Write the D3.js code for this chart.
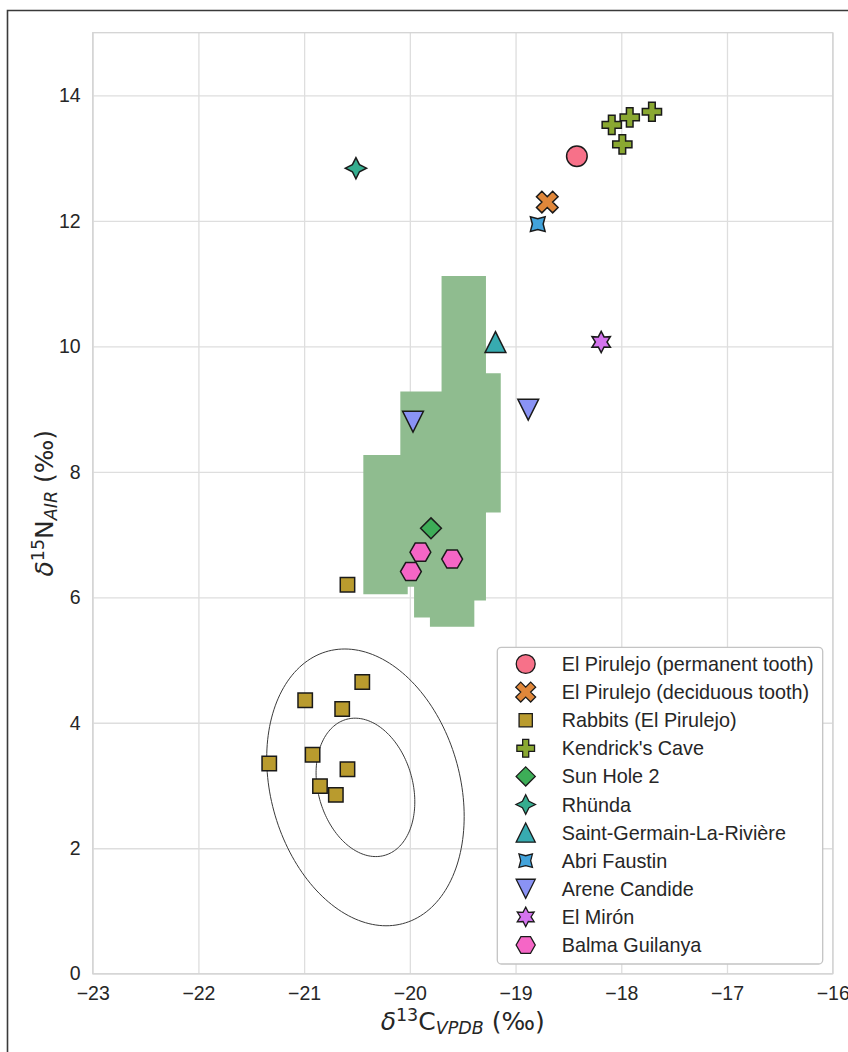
<!DOCTYPE html>
<html>
<head>
<meta charset="utf-8">
<script src="https://cdn.jsdelivr.net/npm/d3@7"></script>
<style>
    body { margin: 0; background: #fff; }
    svg text { font-family: 'Liberation Sans', Arial, sans-serif; fill: #262626; }
</style>
</head>
<body>
<div id="chart"></div>
<script>
// legend order of the groups
const categories = [
    'El Pirulejo (permanent tooth)',
    'El Pirulejo (deciduous tooth)',
    'Rabbits (El Pirulejo)',
    "Kendrick's Cave",
    'Sun Hole 2',
    'Rhünda',
    'Saint-Germain-La-Rivière',
    'Abri Faustin',
    'Arene Candide',
    'El Mirón',
    'Balma Guilanya'
];

// [d13C, d15N] per group
const elPirulejoPermanent = [[-18.42, 13.03]];
const elPirulejoDeciduous = [[-18.70, 12.30]];
const rabbits = [[-20.59, 6.20], [-20.45, 4.65], [-20.99, 4.36], [-20.64, 4.22], [-20.92, 3.49],
    [-21.33, 3.35], [-20.59, 3.26], [-20.85, 2.99], [-20.70, 2.85]];
const kendricksCave = [[-18.09, 13.53], [-17.92, 13.65], [-17.71, 13.74], [-17.99, 13.22]];
const sunHole2 = [[-19.80, 7.10]];
const rhunda = [[-20.51, 12.84]];
const saintGermain = [[-19.19, 10.07]];
const abriFaustin = [[-18.79, 11.95]];
const areneCandide = [[-19.97, 8.80], [-18.88, 8.99]];
const elMiron = [[-18.19, 10.07]];
const balmaGuilanya = [[-19.90, 6.72], [-19.60, 6.61], [-19.99, 6.41]];

const groups = [elPirulejoPermanent, elPirulejoDeciduous, rabbits, kendricksCave, sunHole2, rhunda,
    saintGermain, abriFaustin, areneCandide, elMiron, balmaGuilanya];

// tick values
const xTicks = [-23, -22, -21, -20, -19, -18, -17, -16];
const yTicks = [0, 2, 4, 6, 8, 10, 12, 14];

// shaded region outline (data units)
const regionX = [-19.70, -19.28, -19.28, -19.14, -19.14, -19.28, -19.28, -19.39, -19.39, -19.81,
    -19.81, -19.96, -19.96, -20.02, -20.02, -20.44, -20.44, -20.09, -20.09, -19.70];
const regionY = [11.12, 11.12, 9.57, 9.57, 7.35, 7.35, 5.95, 5.95, 5.53, 5.53,
    5.68, 5.68, 6.17, 6.17, 6.05, 6.05, 8.27, 8.27, 9.28, 9.28];

// ellipses: centre, standard deviations, correlation, levels in sd
const ellipseCenter = [-20.42, 2.97];
const ellipseSd = [0.467, 1.103];
const ellipseRho = -0.21;
const ellipseLevels = [1, 2];

// styles, kept apart from the data
const markerColors = ['#f77189', '#e0873a', '#b99b2e', '#8aa831', '#3dad57', '#35ad8f',
    '#37abb0', '#42a3db', '#8a93f5', '#d474ee', '#f566c6'];
const markerShapes = ['circle', 'x', 'square', 'plus', 'diamond', 'star4', 'triangleUp',
    'star4x', 'triangleDown', 'star6', 'hexagon'];

const W = 848;
const H = 1052;
const margin = { top: 32.7, right: 15.3, bottom: 78.3, left: 92.7 };
const width = W - margin.left - margin.right;
const height = H - margin.top - margin.bottom;

const xScale = d3.scaleLinear().domain([-23, -16]).range([0, width]);
const yScale = d3.scaleLinear().domain([0, 15]).range([height, 0]);

const fmt = function (d) { return d < 0 ? '\u2212' + Math.abs(d) : String(d); };

// marker outlines around (0,0)
let polyPath = function (pts) {
    return 'M' + pts.map(function (p) { return p[0].toFixed(2) + ',' + p[1].toFixed(2); }).join('L') + 'Z';
};
let starPts = function (n, ro, ri, rot) {
    let pts = [];
    for (let i = 0; i < 2 * n; i++) {
        let a = -Math.PI / 2 + rot + i * Math.PI / n;
        let r = i % 2 ? ri : ro;
        pts.push([r * Math.cos(a), r * Math.sin(a)]);
    }
    return pts;
};
let markerPath = function (shape) {
    if (shape === 'circle') {
        let r = 10.3;
        return 'M' + r + ',0A' + r + ',' + r + ' 0 1,1 ' + (-r) + ',0A' + r + ',' + r + ' 0 1,1 ' + r + ',0Z';
    }
    if (shape === 'x') {
        let k = 5.4;
        return polyPath([[-1, -2], [0, -1], [1, -2], [2, -1], [1, 0], [2, 1], [1, 2], [0, 1],
            [-1, 2], [-2, 1], [-1, 0], [-2, -1]].map(function (p) { return [p[0] * k, p[1] * k]; }));
    }
    if (shape === 'square') {
        let s = 7.2;
        return polyPath([[-s, -s], [s, -s], [s, s], [-s, s]]);
    }
    if (shape === 'plus') {
        let L = 9.6, w = 3.3;
        return polyPath([[-w, -L], [w, -L], [w, -w], [L, -w], [L, w], [w, w], [w, L], [-w, L],
            [-w, w], [-L, w], [-L, -w], [-w, -w]]);
    }
    if (shape === 'diamond') {
        let r = 10.4;
        return polyPath([[0, -r], [r, 0], [0, r], [-r, 0]]);
    }
    if (shape === 'star4') return polyPath(starPts(4, 10.6, 5.0, 0));
    if (shape === 'star4x') return polyPath(starPts(4, 10.4, 5.4, Math.PI / 4));
    if (shape === 'star6') return polyPath(starPts(6, 10.6, 5.8, 0));
    if (shape === 'triangleUp') {
        let h = 10.4;
        return polyPath([[0, -h], [h, h], [-h, h]]);
    }
    if (shape === 'triangleDown') {
        let h = 10.4;
        return polyPath([[0, h], [-h, -h], [h, -h]]);
    }
    if (shape === 'hexagon') {
        let pts = d3.range(6).map(function (i) {
            let a = i * Math.PI / 3;
            return [10.4 * Math.cos(a), 10.4 * Math.sin(a)];
        });
        return polyPath(pts);
    }
};

let root = d3.select('#chart').append('svg')
    .attr('width', W)
    .attr('height', H)
    .style('display', 'block');

root.append('rect').attr('width', W).attr('height', H).attr('fill', '#fff');

// figure border (only left and top are inside the picture)
root.append('path')
    .attr('d', 'M7.5,' + H + 'V10.5H' + W)
    .attr('fill', 'none')
    .attr('stroke', '#3a3a3a')
    .attr('stroke-width', 1.6);

let svg = root.append('g')
    .attr('transform', 'translate(' + margin.left + ',' + margin.top + ')');

// grid
let xGrid = d3.axisBottom(xScale).tickValues(xTicks).tickSize(-height).tickFormat('');
let yGrid = d3.axisLeft(yScale).tickValues(yTicks).tickSize(-width).tickFormat('');
svg.append('g').attr('class', 'xgrid').attr('transform', 'translate(0,' + height + ')').call(xGrid);
svg.append('g').attr('class', 'ygrid').call(yGrid);
svg.selectAll('.xgrid .domain, .ygrid .domain').remove();
svg.selectAll('.xgrid line, .ygrid line').attr('stroke', '#dedede').attr('stroke-width', 1.3);

// frame
svg.append('rect')
    .attr('width', width).attr('height', height)
    .attr('fill', 'none').attr('stroke', '#d4d4d4').attr('stroke-width', 1.3);

// tick labels
let xAxis = d3.axisBottom(xScale).tickValues(xTicks).tickSize(0).tickPadding(12.5).tickFormat(fmt);
let yAxis = d3.axisLeft(yScale).tickValues(yTicks).tickSize(0).tickPadding(12).tickFormat(fmt);
svg.append('g').attr('class', 'xaxis').attr('transform', 'translate(0,' + height + ')').call(xAxis);
svg.append('g').attr('class', 'yaxis').call(yAxis);
svg.selectAll('.xaxis .domain, .yaxis .domain').remove();
svg.selectAll('.xaxis text, .yaxis text').attr('font-size', 19.5);

// shaded region
let regionPts = regionX.map(function (x, i) { return [xScale(x), yScale(regionY[i])]; });
svg.append('path')
    .attr('d', d3.line().curve(d3.curveLinearClosed)(regionPts))
    .attr('fill', '#8fbc8f');

// ellipses from the covariance
let sx = ellipseSd[0], sy = ellipseSd[1];
ellipseLevels.forEach(function (k) {
    let pts = d3.range(0, 360, 2).map(function (deg) {
        let t = deg * Math.PI / 180;
        let u = Math.cos(t), v = Math.sin(t);
        let dx = k * sx * u;
        let dy = k * (ellipseRho * sy * u + sy * Math.sqrt(1 - ellipseRho * ellipseRho) * v);
        return [xScale(ellipseCenter[0] + dx), yScale(ellipseCenter[1] + dy)];
    });
    svg.append('path')
        .attr('d', d3.line().curve(d3.curveLinearClosed)(pts))
        .attr('fill', 'none')
        .attr('stroke', '#3a3a3a')
        .attr('stroke-width', 1);
});

// points
groups.forEach(function (g, gi) {
    svg.append('g').selectAll('path').data(g).enter().append('path')
        .attr('d', markerPath(markerShapes[gi]))
        .attr('transform', function (d) { return 'translate(' + xScale(d[0]) + ',' + yScale(d[1]) + ')'; })
        .attr('fill', markerColors[gi])
        .attr('stroke', '#1a1a1a')
        .attr('stroke-width', 1.5)
        .attr('stroke-linejoin', 'miter');
});

// axis titles
let xTitle = root.append('text')
    .attr('x', margin.left + width / 2)
    .attr('y', 1030)
    .attr('text-anchor', 'middle')
    .style('font-family', "'DejaVu Sans', sans-serif")
    .attr('font-size', 25);
xTitle.append('tspan').attr('font-style', 'italic').text('δ');
xTitle.append('tspan').attr('font-size', 17.5).attr('dy', -9).text('13');
xTitle.append('tspan').attr('dy', 9).text('C');
xTitle.append('tspan').attr('font-size', 17.5).attr('font-style', 'italic').attr('dy', 4).text('VPDB');
xTitle.append('tspan').attr('dy', -4).text(' (‰)');

let yTitle = root.append('text')
    .attr('transform', 'translate(53.3,' + (margin.top + height / 2) + ') rotate(-90)')
    .attr('text-anchor', 'middle')
    .style('font-family', "'DejaVu Sans', sans-serif")
    .attr('font-size', 25);
yTitle.append('tspan').attr('font-style', 'italic').text('δ');
yTitle.append('tspan').attr('font-size', 17.5).attr('dy', -9).text('15');
yTitle.append('tspan').attr('dy', 9).text('N');
yTitle.append('tspan').attr('font-size', 17.5).attr('font-style', 'italic').attr('dy', 4).text('AIR');
yTitle.append('tspan').attr('dy', -4).text(' (‰)');

// legend
let legend = root.append('g').attr('transform', 'translate(497.3,647.3)');
legend.append('rect')
    .attr('width', 325.4).attr('height', 316.7)
    .attr('rx', 4).attr('ry', 4)
    .attr('fill', '#fff')
    .attr('stroke', '#c4c4c4')
    .attr('stroke-width', 1.3);

let rows = legend.selectAll('.row').data(categories).enter().append('g')
    .attr('class', 'row')
    .attr('transform', function (d, i) { return 'translate(0,' + (16.7 + i * 28.1) + ')'; });
rows.append('path')
    .attr('d', function (d, i) { return markerPath(markerShapes[i]); })
    .attr('transform', 'translate(28.4,0) scale(0.92)')
    .attr('fill', function (d, i) { return markerColors[i]; })
    .attr('stroke', '#1a1a1a')
    .attr('stroke-width', 1.4);
rows.append('text')
    .attr('x', 64.4)
    .attr('y', 7)
    .attr('font-size', 19.8)
    .text(function (d) { return d; });
</script>
</body>
</html>
